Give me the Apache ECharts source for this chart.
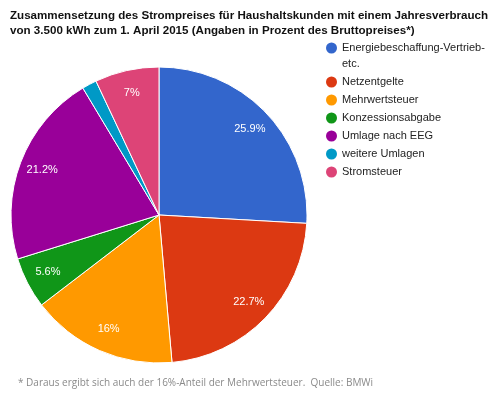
<!DOCTYPE html>
<html>
<head>
<meta charset="utf-8">
<script src="https://cdn.jsdelivr.net/npm/echarts@6/dist/echarts.min.js"></script>
<style>
  html, body { margin: 0; padding: 0; background: #fff; }
  #chart { width: 495px; height: 399px; }
</style>
</head>
<body>
<div id="chart"></div>
<script>
// Anteile am Strompreis (Prozent)
var kategorien = ['Energiebeschaffung-Vertrieb-etc.', 'Netzentgelte', 'Mehrwertsteuer',
    'Konzessionsabgabe', 'Umlage nach EEG', 'weitere Umlagen', 'Stromsteuer'];
var anteile = [25.9, 22.7, 16, 5.6, 21.2, 1.6, 7];
var farben = ['#3366cc', '#dc3912', '#ff9900', '#109618', '#990099', '#0099c6', '#dd4477'];

var pieData = [];
for (var i = 0; i < kategorien.length; i++) {
    pieData.push({ name: kategorien[i], value: anteile[i] });
}

var legendText = {
    fontFamily: 'Liberation Sans, Arial',
    fontSize: 11,
    color: '#222',
    lineHeight: 14
};

var option = {
    animation: false,
    color: farben,
    title: {
        text: 'Zusammensetzung des Strompreises für Haushaltskunden mit einem Jahresverbrauch\nvon 3.500 kWh zum 1. April 2015 (Angaben in Prozent des Bruttopreises*)',
        left: 10,
        top: 8,
        padding: 0,
        textStyle: {
            fontFamily: 'Liberation Sans, Arial',
            fontSize: 11.6,
            fontWeight: 'bold',
            color: '#111',
            lineHeight: 15
        }
    },
    legend: [{
        // erster Eintrag, zweite Zeile "etc." steht als graphic darunter
        data: [kategorien[0]],
        orient: 'vertical',
        left: 326,
        top: 41,
        padding: 0,
        icon: 'circle',
        itemWidth: 11,
        itemHeight: 11,
        itemStyle: { borderWidth: 0 },
        selectedMode: false,
        formatter: function() {
            return 'Energiebeschaffung-Vertrieb-';
        },
        textStyle: legendText
    }, {
        data: kategorien.slice(1),
        orient: 'vertical',
        left: 326,
        top: 75,
        padding: 0,
        itemGap: 4,
        icon: 'circle',
        itemWidth: 11,
        itemHeight: 11,
        itemStyle: { borderWidth: 0 },
        selectedMode: false,
        textStyle: legendText
    }],
    graphic: [{
        type: 'text',
        left: 342,
        top: 58,
        style: {
            text: 'etc.',
            fontFamily: 'Liberation Sans, Arial',
            fontSize: 11,
            fill: '#222'
        }
    }, {
        type: 'text',
        left: 18,
        top: 378,
        style: {
            text: '* Daraus ergibt sich auch der 16%-Anteil der Mehrwertsteuer.  Quelle: BMWi',
            fontFamily: 'Open Sans',
            fontSize: 10,
            fill: '#8a8a8a'
        }
    }],
    series: [{
        type: 'pie',
        center: [159, 215],
        radius: 148,
        startAngle: 90,
        clockwise: true,
        silent: true,
        label: { show: false },
        labelLine: { show: false },
        itemStyle: { borderColor: '#fff', borderWidth: 1 },
        emphasis: { disabled: true },
        data: pieData
    }, {
        // nur für die Beschriftung (weiter außen als die Mitte)
        type: 'pie',
        center: [159, 215],
        radius: [0, 244],
        startAngle: 90,
        clockwise: true,
        silent: true,
        itemStyle: { color: 'rgba(0,0,0,0)' },
        emphasis: { disabled: true },
        label: {
            show: true,
            position: 'inside',
            color: '#fff',
            fontFamily: 'Liberation Sans, Arial',
            fontSize: 11,
            formatter: function(p) {
                return p.value < 3 ? '' : p.value + '%';
            }
        },
        labelLine: { show: false },
        data: pieData
    }]
};

var myChart = echarts.init(document.getElementById('chart'));
myChart.setOption(option);
</script>
</body>
</html>
